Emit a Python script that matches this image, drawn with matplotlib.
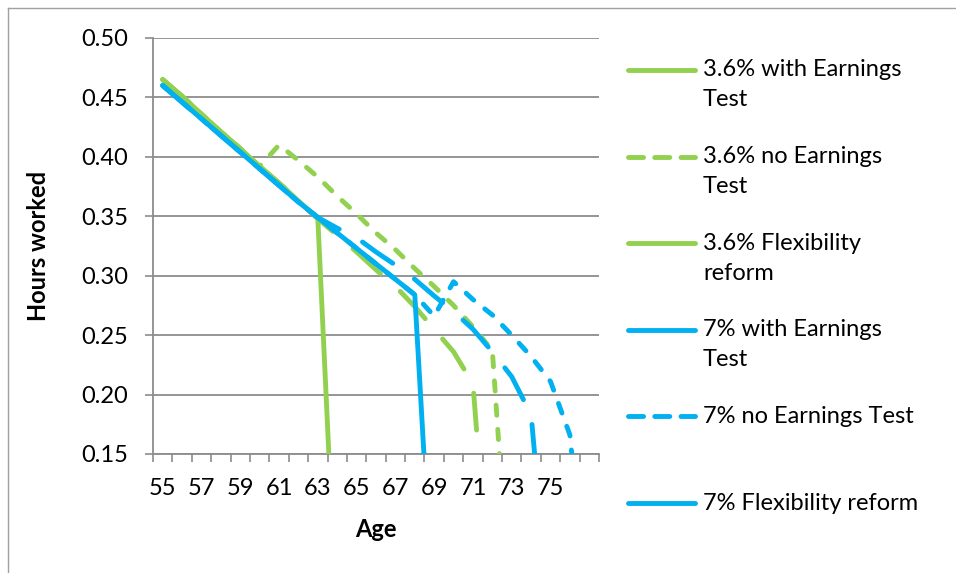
import matplotlib
matplotlib.use('Agg')
import matplotlib.pyplot as plt
from matplotlib.lines import Line2D
import numpy as np

# ---- data ----
ages = list(range(55, 78))
tick_labels = [str(a) if (a - 55) % 2 == 0 and a < 77 else '' for a in ages]

green_et = [0.465, 0.451, 0.436, 0.421, 0.407, 0.392, 0.378, 0.363, 0.348, 0.0]
green_noet = [0.465, 0.451, 0.436, 0.421, 0.407, 0.392, 0.410, 0.397, 0.383, 0.367,
              0.352, 0.336, 0.322, 0.306, 0.291, 0.275, 0.257, 0.237, 0.0]
green_flex = [0.465, 0.451, 0.436, 0.421, 0.407, 0.392, 0.378, 0.363, 0.348, 0.334,
              0.320, 0.305, 0.291, 0.274, 0.255, 0.236, 0.209, 0.0]
blue_et = [0.460, 0.446, 0.432, 0.418, 0.404, 0.390, 0.376, 0.362, 0.349, 0.336,
           0.323, 0.310, 0.297, 0.284, 0.0]
blue_noet = [0.460, 0.446, 0.432, 0.418, 0.404, 0.390, 0.376, 0.362, 0.349, 0.336,
             0.323, 0.310, 0.297, 0.284, 0.266, 0.295, 0.280, 0.267, 0.250, 0.232,
             0.211, 0.166, 0.0]
blue_flex = [0.460, 0.446, 0.432, 0.418, 0.404, 0.390, 0.376, 0.362, 0.349, 0.340,
             0.332, 0.320, 0.309, 0.297, 0.283, 0.270, 0.255, 0.236, 0.215, 0.183, 0.0]

series_names = ["3.6% with Earnings\nTest", "3.6% no Earnings\nTest", "3.6% Flexibility\nreform",
                "7% with Earnings\nTest", "7% no Earnings Test", "7% Flexibility reform"]

GREEN = '#92D050'
BLUE = '#00B0F0'
GRID = '#8C8C8C'
LW = 3.5
DASH = (0, (2.1, 2.9))
LONG = (0, (7.6, 5.5))
LEG_DASH = (0, (3.1, 2.3))
FS = 17

plt.rcParams['font.family'] = ['Lato', 'DejaVu Sans']

W, H = 956, 573
fig = plt.figure(figsize=(W / 100, H / 100), dpi=100)
L, R, T, B = 153, 599, 38, 454
ax = fig.add_axes([L / W, 1 - B / H, (R - L) / W, (B - T) / H])

series = [
    (green_et, GREEN, '-'),
    (green_noet, GREEN, DASH),
    (green_flex, GREEN, LONG),
    (blue_et, BLUE, '-'),
    (blue_noet, BLUE, DASH),
    (blue_flex, BLUE, LONG),
]
for vals, col, ls in series:
    x = np.arange(len(vals))
    ax.plot(x, vals, color=col, lw=LW, linestyle=ls, solid_capstyle='round',
            dash_capstyle='round', solid_joinstyle='round', zorder=3)

ax.set_xlim(-0.5, len(ages) - 0.5)
ax.set_ylim(0.15, 0.50)
ax.set_yticks(np.arange(0.15, 0.501, 0.05))
ax.set_yticklabels([f'{v:.2f}' for v in np.arange(0.15, 0.501, 0.05)])
ax.set_xticks(np.arange(len(ages)))
ax.set_xticklabels(tick_labels)
ax.set_xticks(np.arange(-0.5, len(ages)), minor=True)
ax.tick_params(axis='x', which='major', length=0, pad=17, labelsize=FS)
ax.tick_params(axis='x', which='minor', length=6, width=1.2, color=GRID, direction='out')
ax.tick_params(axis='y', which='major', length=6, width=1.2, color=GRID, pad=12, labelsize=FS)

ax.grid(axis='y', color=GRID, lw=1.3, zorder=0)
for s in ['top', 'right']:
    ax.spines[s].set_visible(False)
for s in ['left', 'bottom']:
    ax.spines[s].set_color(GRID)
    ax.spines[s].set_linewidth(1.3)

ax.set_ylabel('Hours worked', fontsize=FS, fontweight='bold', labelpad=22)
ax.set_xlabel('Age', fontsize=FS, fontweight='bold', labelpad=14)

# legend drawn manually to mimic layout
leg_y0 = 70
leg_dy = 86.6
for i, ((vals, col, ls), name) in enumerate(zip(series, series_names)):
    y = 1 - (leg_y0 + i * leg_dy) / H
    ln = Line2D([628 / W, 695 / W], [y, y], transform=fig.transFigure, color=col, lw=LW,
                linestyle=LEG_DASH if ls == DASH else '-',
                solid_capstyle='round', dash_capstyle='round')
    fig.add_artist(ln)
    for j, part in enumerate(name.split('\n')):
        fig.text(703 / W, 1 - (leg_y0 + i * leg_dy + j * 30) / H, part, fontsize=FS,
                 va='center', ha='left')

# outer border
fig.add_artist(Line2D([8 / W, 8 / W], [0, 1 - 8 / H], transform=fig.transFigure, color='#A0A0A0', lw=1))
fig.add_artist(Line2D([8 / W, 1], [1 - 8 / H, 1 - 8 / H], transform=fig.transFigure, color='#A0A0A0', lw=1))

fig.savefig('out.png', dpi=100)
